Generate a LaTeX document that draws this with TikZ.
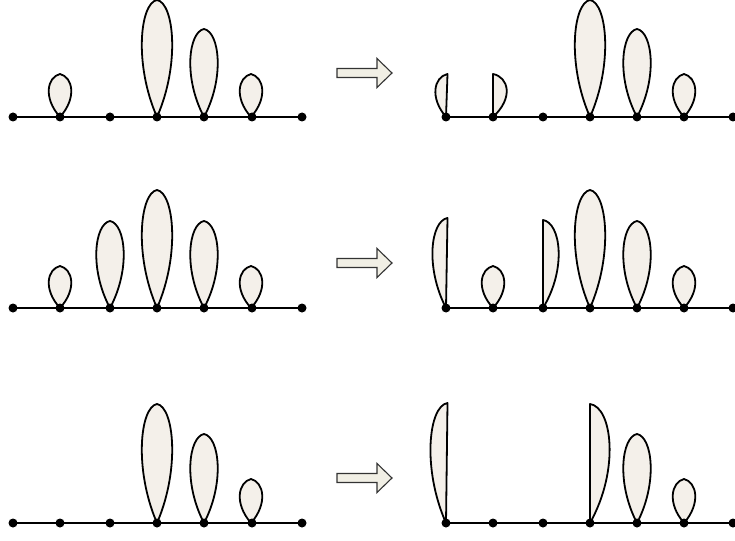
\documentclass[tikz,border=0pt]{standalone}
\begin{document}
\begin{tikzpicture}[x=1pt,y=-1pt]
\definecolor{petalfill}{HTML}{F4F0EA}
\definecolor{arrowfill}{HTML}{F1EFE5}
\definecolor{arrowline}{HTML}{333333}
\tikzset{
  petalline/.style={draw=black,fill=petalfill,line width=1.8pt,line join=round},
  baseline/.style={draw=black,line width=1.8pt},
  dot/.style={circle,fill=black,inner sep=0pt,minimum size=9pt},
  bigarrow/.style={draw=arrowline,fill=arrowfill,line width=1.1pt,line join=miter}
}
\useasboundingbox (0,0) rectangle (735,540);
% full petal: #1 x, #2 base y, #3 height, #4 half width
\newcommand{\fullpetal}[4]{%
  \path[petalline] (#1,#2)
    .. controls ({#1-1.5*#4},{#2-0.45*#3}) and ({#1-1.1*#4},{#2-#3+3}) .. (#1,{#2-#3})
    .. controls ({#1+1.1*#4},{#2-#3+3}) and ({#1+1.5*#4},{#2-0.45*#3}) .. (#1,#2) -- cycle;}
\newcommand{\lefthalf}[4]{%
  \path[petalline] (#1,#2) -- ({#1+1.5},{#2-#3})
    .. controls ({#1-1.1*#4},{#2-#3+3}) and ({#1-1.5*#4},{#2-0.45*#3}) .. (#1,#2) -- cycle;}
\newcommand{\righthalf}[4]{%
  \path[petalline] (#1,#2) -- (#1,{#2-#3})
    .. controls ({#1+1.1*#4},{#2-#3+3}) and ({#1+1.5*#4},{#2-0.45*#3}) .. (#1,#2) -- cycle;}
% arrows
\foreach \c [count=\i] in {73,263,478}{
  \path[bigarrow] (337,{\c-4.5}) -- (377,{\c-4.5}) -- (377,{\c-14.5}) -- (392,\c)
    -- (377,{\c+14.5}) -- (377,{\c+4.5}) -- (337,{\c+4.5}) -- cycle;
}
% ---------- row 1 ----------
\fullpetal{60}{117}{43}{11.5}
\fullpetal{157}{117}{117}{15.5}
\fullpetal{204}{117}{88}{14}
\fullpetal{251}{117}{43}{11.5}
\lefthalf{446}{117}{43}{11}
\righthalf{493}{117}{43}{14}
\fullpetal{590}{117}{117}{15.5}
\fullpetal{637}{117}{88}{14}
\fullpetal{684}{117}{43}{11.5}
% ---------- row 2 ----------
\fullpetal{60}{308}{42}{11.5}
\fullpetal{110}{308}{87}{14}
\fullpetal{157}{308}{118}{15.5}
\fullpetal{204}{308}{87}{14}
\fullpetal{251}{308}{42}{11.5}
\lefthalf{446}{308}{90}{14}
\fullpetal{493}{308}{42}{11.5}
\righthalf{543}{308}{88}{16}
\fullpetal{590}{308}{118}{15.5}
\fullpetal{637}{308}{87}{14}
\fullpetal{684}{308}{42}{11.5}
% ---------- row 3 ----------
\fullpetal{157}{523}{119}{15.5}
\fullpetal{204}{523}{89}{14}
\fullpetal{251}{523}{44}{11.5}
\lefthalf{446}{523}{120}{16}
\righthalf{590}{523}{119}{20}
\fullpetal{637}{523}{89}{14}
\fullpetal{684}{523}{44}{11.5}
% ---------- baselines and dots ----------
\foreach \r/\y in {a/117,b/308,c/523}{
  \foreach \x [count=\k] in {13,60,110,157,204,252,302}{
    \coordinate (L\r\k) at (\x,\y);
  }
  \foreach \x [count=\k] in {446,493,543,590,637,684,733}{
    \coordinate (R\r\k) at (\x,\y);
  }
  \path[baseline] (L\r1) -- (L\r7);
  \path[baseline] (R\r1) -- (R\r7);
  \foreach \k in {1,...,7}{
    \node[dot] (dL\r\k) at (L\r\k) {};
    \node[dot] (dR\r\k) at (R\r\k) {};
  }
}
\end{tikzpicture}
\end{document}
